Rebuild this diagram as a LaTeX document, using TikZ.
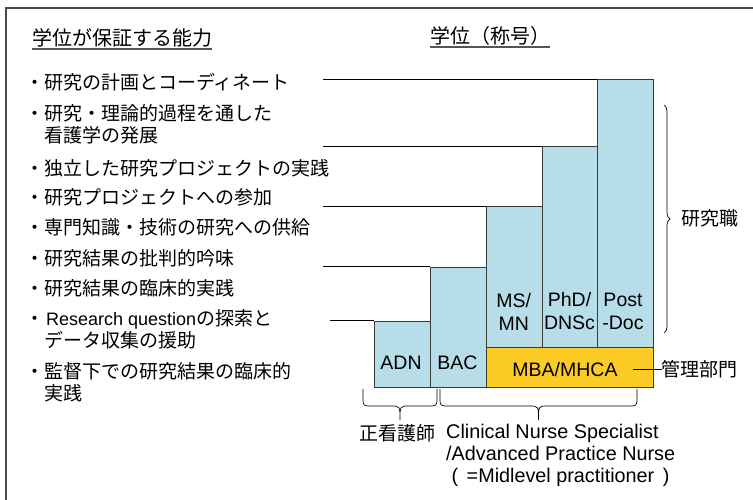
\documentclass[tikz,border=0pt]{standalone}
\usepackage{fontspec}
\setmainfont{Liberation Sans}
\newfontfamily\cjk{Noto Sans CJK JP}
\newfontfamily\lat{Liberation Sans}
\usetikzlibrary{decorations.pathreplacing}
\definecolor{barblue}{HTML}{B7DDE8}
\definecolor{baryel}{HTML}{FDCB26}
\definecolor{edgec}{HTML}{3A3A3A}
\definecolor{framec}{HTML}{4A4A4A}
\definecolor{ulc}{HTML}{555555}
\begin{document}
\begin{tikzpicture}[x=1bp,y=-1bp,
  item/.style={anchor=west,inner sep=0pt,align=left,font=\cjk\fontsize{19bp}{22bp}\selectfont},
  hdr/.style={anchor=west,inner sep=0pt,font=\cjk\fontsize{20bp}{24bp}\selectfont},
  lab/.style={inner sep=0pt,align=center,font=\lat\fontsize{19.5bp}{23bp}\selectfont},
  jlab/.style={inner sep=0pt,font=\cjk\fontsize{19bp}{22bp}\selectfont},
  bar/.style={draw=edgec,fill=barblue,line width=0.9bp,inner sep=0pt,anchor=north west},
  ybar/.style={bar,fill=baryel},
  guide/.style={draw=black,line width=0.8bp},
  uline/.style={draw=ulc,line width=1.4bp},
  bracec/.style={draw=black,line width=0.7bp},
]
\useasboundingbox (0,0) rectangle (753,500);
% frame (only top and left visible)
\draw[framec,line width=2bp] (6,502) -- (6,8) -- (755,8);

% headers
\node[hdr] (h1) at (32,38) {学位が保証する能力};
\node[hdr] (h2) at (430,36) {学位（称号）};
\coordinate (u1) at (0,49);
\coordinate (u2) at (0,47);
\draw[uline] (h1.west |- u1) -- (h1.east |- u1);
\draw[uline] (h2.west |- u2) -- (h2.east |- u2);

% items
\node[item] (i1) at (44,82) {\llap{・}研究の計画とコーディネート};
\node[item] (i2) at (44,124) {\llap{・}研究・理論的過程を通した\\看護学の発展};
\node[item] (i3) at (44,168) {\llap{・}独立した研究プロジェクトの実践};
\node[item] (i4) at (44,197) {\llap{・}研究プロジェクトへの参加};
\node[item] (i5) at (44,227) {\llap{・}専門知識・技術の研究への供給};
\node[item] (i6) at (44,258) {\llap{・}研究結果の批判的吟味};
\node[item] (i7) at (44,288) {\llap{・}研究結果の臨床的実践};
\node[item] (i8) at (44,329) {\llap{・}{\lat\fontsize{18bp}{22bp}\selectfont\hspace{2bp}Research question}の探索と\\データ収集の援助};
\node[item] (i9) at (44,382.5) {\llap{・}監督下での研究結果の臨床的\\実践};

% guide line starts
\coordinate (g1) at (323,79);
\coordinate (g2) at (323,146);
\coordinate (g3) at (323,206);
\coordinate (g4) at (323,266.7);
\coordinate (g5) at (330,320.7);

% bars
\node[bar,minimum width=55.7bp,minimum height=66.6bp] (adn) at (374.3,320.7) {};
\node[bar,minimum width=55.7bp,minimum height=120.6bp] (bac) at (430,266.7) {};
\node[bar,minimum width=56bp,minimum height=141.3bp] (ms) at (485.7,206) {};
\node[bar,minimum width=55.6bp,minimum height=201.3bp] (phd) at (541.7,146) {};
\node[bar,minimum width=56bp,minimum height=268.3bp] (post) at (597.3,79) {};
\node[ybar,minimum width=167.6bp,minimum height=40bp] (mba) at (485.7,347.3) {};

\draw[guide] (g1) -- (post.north west);
\draw[guide] (g2) -- (phd.north west);
\draw[guide] (g3) -- (ms.north west);
\draw[guide] (g4) -- (bac.north west);
\draw[guide] (g5) -- (adn.north west);

% bar labels
\node[lab] (tadn) at (401,363) {ADN};
\node[lab] (tbac) at (457.5,363) {BAC};
\node[lab] (tms) at (513.7,311.5) {MS/\\MN};
\node[lab] (tphd) at (569.5,311.5) {PhD/\\DNSc};
\node[lab] (tpost) at (623,311.5) {Post\\-Doc};
\node[lab] (tmba) at (565,370) {MBA/MHCA};

% right brace
\coordinate (bt) at (664,105);
\coordinate (bb) at (664,333);
\draw[bracec,decorate,decoration={brace,amplitude=6bp}] (bt) -- (bb);
\node[jlab,anchor=west] (kenkyu) at (681.7,218) {研究職};

% management label
\coordinate (mbaR) at (633,369);
\node[jlab,anchor=west] (kanri) at (661.7,369) {管理部門};
\draw[guide] (mbaR) -- (kanri.west);

% bottom braces
\draw[bracec] (363,389) -- (363,397) .. controls (363,406) .. (372,406) -- (391,406)
  .. controls (400,406) .. (400,420) .. controls (400,406) .. (409,406) -- (428,406)
  .. controls (437,406) .. (437,397) -- (437,389);
\draw[bracec] (440,389) -- (440,397) .. controls (440,406) .. (449,406) -- (529.5,406)
  .. controls (538.5,406) .. (538.5,420) .. controls (538.5,406) .. (547.5,406) -- (628,406)
  .. controls (637,406) .. (637,397) -- (637,389);

% bottom labels
\node[jlab] (seikan) at (397.5,433) {正看護師};
\node[lab,anchor=west,align=left,font=\lat\fontsize{19.8bp}{22bp}\selectfont] (cns) at (446,455)
  {Clinical Nurse Specialist\\/Advanced Practice Nurse\\\hspace*{5.4bp}(\hspace{3bp} =Midlevel practitioner\hspace{3bp} )};
\end{tikzpicture}
\end{document}
